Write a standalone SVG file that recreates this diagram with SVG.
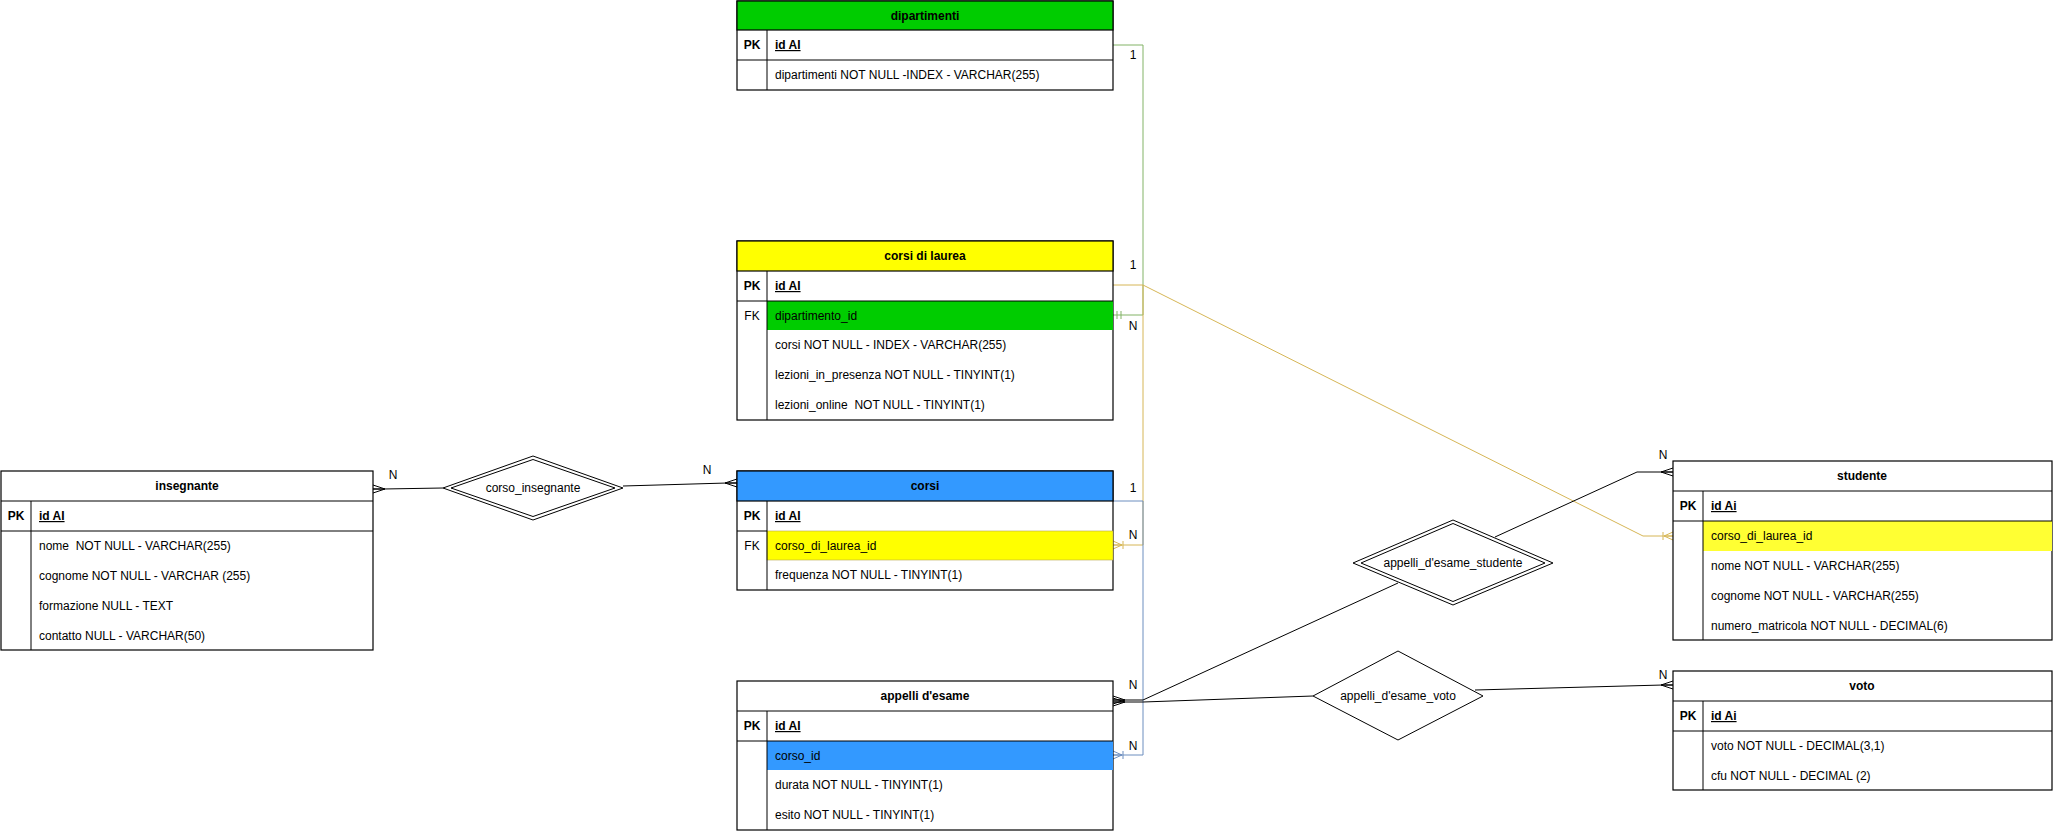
<svg xmlns="http://www.w3.org/2000/svg" width="2055" height="831" viewBox="0 0 2055 831">
<style>
text{font-family:"Liberation Sans",Arial,Helvetica,sans-serif;font-size:12px;fill:#000;}
.t{font-weight:bold;text-anchor:middle;}
.pk{font-weight:bold;text-anchor:middle;}
.fk{text-anchor:middle;}
.id{font-weight:bold;text-decoration:underline;}
.box{fill:#fff;stroke:#000;stroke-width:1.2;}
.ln{stroke:#000;stroke-width:1;fill:none;}
.lbl{text-anchor:middle;}
.c{fill:none;stroke-width:1;}
.cg{stroke:#82b366;}
.co{stroke:#d6b656;}
.cb{stroke:#6c8ebf;}
.ck{stroke:#000;}
.rh{fill:#fff;stroke:#000;stroke-width:1;}
</style>
<defs>
<marker id="mMany" viewBox="0 0 12 10" refX="12" refY="5" markerWidth="12" markerHeight="10" markerUnits="userSpaceOnUse" orient="auto">
<path d="M0,5 L12,5 M0,5 L12,1 M0,5 L12,9" fill="none" stroke="#000" stroke-width="1"/>
</marker>
<marker id="mOMo" viewBox="0 0 12 10" refX="12" refY="5" markerWidth="12" markerHeight="10" markerUnits="userSpaceOnUse" orient="auto">
<path d="M3,5 L12,5 M3,5 L12,1 M3,5 L12,9 M2,1 L2,9" fill="none" stroke="#d6b656" stroke-width="1"/>
</marker>
<marker id="mOMb" viewBox="0 0 12 10" refX="12" refY="5" markerWidth="12" markerHeight="10" markerUnits="userSpaceOnUse" orient="auto">
<path d="M3,5 L12,5 M3,5 L12,1 M3,5 L12,9 M2,1 L2,9" fill="none" stroke="#6c8ebf" stroke-width="1"/>
</marker>
<marker id="mMO" viewBox="0 0 12 10" refX="12" refY="5" markerWidth="12" markerHeight="10" markerUnits="userSpaceOnUse" orient="auto">
<path d="M4,1 L4,9 M8,1 L8,9" fill="none" stroke="#82b366" stroke-width="1"/>
</marker>
</defs>
<rect width="2055" height="831" fill="#fff"/>

<g id="connectors">
<path class="c cg" d="M1113,45 H1143 V315 H1113" marker-end="url(#mMO)"/>
<path class="c co" d="M1113,285 H1143 V545 H1113" marker-end="url(#mOMo)"/>
<path class="c co" d="M1143,285 L1643,536 H1673" marker-end="url(#mOMo)"/>
<path class="c cb" d="M1113,501 H1143 V755 H1113" marker-end="url(#mOMb)"/>
<path class="c ck" d="M443,488 L383,489 H373" marker-end="url(#mMany)"/>
<path class="c ck" d="M623,486 L727,483 H737" marker-end="url(#mMany)"/>
<path class="c ck" d="M1398,583 L1143,700 H1113" marker-end="url(#mMany)"/>
<path class="c ck" d="M1495,537 L1637,472 H1673" marker-end="url(#mMany)"/>
<path class="c ck" d="M1313,696 L1143,702 H1113" marker-end="url(#mMany)"/>
<path class="c ck" d="M1475,690 L1663,685 H1673" marker-end="url(#mMany)"/>
<text class="lbl" x="1133" y="59">1</text>
<text class="lbl" x="1133" y="269">1</text>
<text class="lbl" x="1133" y="330">N</text>
<text class="lbl" x="1133" y="492">1</text>
<text class="lbl" x="1133" y="539">N</text>
<text class="lbl" x="1133" y="689">N</text>
<text class="lbl" x="1133" y="750">N</text>
<text class="lbl" x="393" y="479">N</text>
<text class="lbl" x="707" y="474">N</text>
<text class="lbl" x="1663" y="459">N</text>
<text class="lbl" x="1663" y="679">N</text>
</g>

<g id="dipartimenti">
<rect class="box" x="737" y="1" width="376" height="89"/>
<rect x="737" y="1" width="376" height="29" fill="#00cc00" stroke="#000" stroke-width="1.2"/>
<line class="ln" x1="737" y1="60" x2="1113" y2="60"/>
<line class="ln" x1="767" y1="30" x2="767" y2="90"/>
<text class="t" x="925" y="20">dipartimenti</text>
<text class="pk" x="752" y="49">PK</text>
<text class="id" x="775" y="49">id AI</text>
<text x="775" y="79">dipartimenti NOT NULL -INDEX - VARCHAR(255)</text>
</g>

<g id="corsi_di_laurea">
<rect class="box" x="737" y="241" width="376" height="179"/>
<rect x="737" y="241" width="376" height="30" fill="#ffff00" stroke="#000" stroke-width="1.2"/>
<rect x="767" y="301" width="346" height="29" fill="#00cc00"/>
<line class="ln" x1="737" y1="301" x2="1113" y2="301"/>
<line class="ln" x1="767" y1="271" x2="767" y2="420"/>
<text class="t" x="925" y="260">corsi di laurea</text>
<text class="pk" x="752" y="290">PK</text>
<text class="id" x="775" y="290">id AI</text>
<text class="fk" x="752" y="320">FK</text>
<text x="775" y="320">dipartimento_id</text>
<text x="775" y="349">corsi NOT NULL - INDEX - VARCHAR(255)</text>
<text x="775" y="379">lezioni_in_presenza NOT NULL - TINYINT(1)</text>
<text x="775" y="409" xml:space="preserve">lezioni_online  NOT NULL - TINYINT(1)</text>
</g>

<g id="corsi">
<rect class="box" x="737" y="471" width="376" height="119"/>
<rect x="737" y="471" width="376" height="30" fill="#3399ff" stroke="#000" stroke-width="1.2"/>
<rect x="767" y="531" width="346" height="29" fill="#ffff00" stroke="#b8a84a" stroke-width="0.6"/>
<line class="ln" x1="737" y1="531" x2="767" y2="531"/>
<line class="ln" x1="767" y1="501" x2="767" y2="590"/>
<text class="t" x="925" y="490">corsi</text>
<text class="pk" x="752" y="520">PK</text>
<text class="id" x="775" y="520">id AI</text>
<text class="fk" x="752" y="550">FK</text>
<text x="775" y="550">corso_di_laurea_id</text>
<text x="775" y="579">frequenza NOT NULL - TINYINT(1)</text>
</g>

<g id="appelli_d_esame">
<rect class="box" x="737" y="681" width="376" height="149"/>
<line class="ln" x1="737" y1="711" x2="1113" y2="711"/>
<rect x="767" y="741" width="346" height="29" fill="#3399ff"/>
<line class="ln" x1="737" y1="741" x2="1113" y2="741"/>
<line class="ln" x1="767" y1="711" x2="767" y2="830"/>
<text class="t" x="925" y="700">appelli d'esame</text>
<text class="pk" x="752" y="730">PK</text>
<text class="id" x="775" y="730">id AI</text>
<text x="775" y="760">corso_id</text>
<text x="775" y="789">durata NOT NULL - TINYINT(1)</text>
<text x="775" y="819">esito NOT NULL - TINYINT(1)</text>
</g>

<g id="insegnante">
<rect class="box" x="1" y="471" width="372" height="179"/>
<line class="ln" x1="1" y1="501" x2="373" y2="501"/>
<line class="ln" x1="1" y1="531" x2="373" y2="531"/>
<line class="ln" x1="31" y1="501" x2="31" y2="650"/>
<text class="t" x="187" y="490">insegnante</text>
<text class="pk" x="16" y="520">PK</text>
<text class="id" x="39" y="520">id AI</text>
<text x="39" y="550" xml:space="preserve">nome  NOT NULL - VARCHAR(255)</text>
<text x="39" y="580">cognome NOT NULL - VARCHAR (255)</text>
<text x="39" y="610">formazione NULL - TEXT</text>
<text x="39" y="640">contatto NULL - VARCHAR(50)</text>
</g>

<g id="studente">
<rect class="box" x="1673" y="461" width="379" height="179"/>
<line class="ln" x1="1673" y1="491" x2="2052" y2="491"/>
<rect x="1703" y="521" width="349" height="30" fill="#ffff33"/>
<line class="ln" x1="1673" y1="521" x2="2052" y2="521"/>
<line class="ln" x1="1703" y1="491" x2="1703" y2="640"/>
<text class="t" x="1862" y="480">studente</text>
<text class="pk" x="1688" y="510">PK</text>
<text class="id" x="1711" y="510">id Ai</text>
<text x="1711" y="540">corso_di_laurea_id</text>
<text x="1711" y="570">nome NOT NULL - VARCHAR(255)</text>
<text x="1711" y="600">cognome NOT NULL - VARCHAR(255)</text>
<text x="1711" y="630">numero_matricola NOT NULL - DECIMAL(6)</text>
</g>

<g id="voto">
<rect class="box" x="1673" y="671" width="379" height="119"/>
<line class="ln" x1="1673" y1="701" x2="2052" y2="701"/>
<line class="ln" x1="1673" y1="731" x2="2052" y2="731"/>
<line class="ln" x1="1703" y1="701" x2="1703" y2="790"/>
<text class="t" x="1862" y="690">voto</text>
<text class="pk" x="1688" y="720">PK</text>
<text class="id" x="1711" y="720">id Ai</text>
<text x="1711" y="750">voto NOT NULL - DECIMAL(3,1)</text>
<text x="1711" y="780">cfu NOT NULL - DECIMAL (2)</text>
</g>

<g id="corso_insegnante">
<polygon class="rh" points="443,488 533,456 623,488 533,520"/>
<polygon class="rh" points="451,488 533,459.5 615,488 533,516.5"/>
<text class="lbl" x="533" y="492">corso_insegnante</text>
</g>

<g id="appelli_d_esame_studente">
<polygon class="rh" points="1353,563 1453,520 1553,563 1453,605"/>
<polygon class="rh" points="1361,563 1453,523.5 1545,563 1453,601.5"/>
<text class="lbl" x="1453" y="567">appelli_d'esame_studente</text>
</g>

<g id="appelli_d_esame_voto">
<polygon class="rh" points="1313,696 1398,651 1483,696 1398,740"/>
<text class="lbl" x="1398" y="700">appelli_d'esame_voto</text>
</g>
</svg>
